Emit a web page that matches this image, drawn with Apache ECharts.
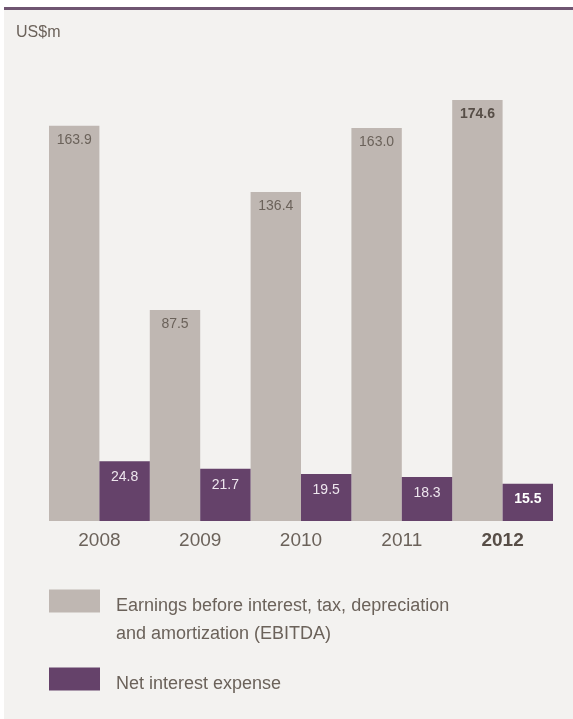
<!DOCTYPE html>
<html>
<head>
<meta charset="utf-8">
<script src="https://cdn.jsdelivr.net/npm/echarts@6/dist/echarts.min.js"></script>
<style>
    html, body { margin: 0; padding: 0; background: #ffffff; }
    #panel {
        position: absolute; left: 4px; top: 7px; right: 0; bottom: 0;
        background: #f3f2f0; border-top: 3px solid #6f5571;
    }
    #chart { position: absolute; left: 0; top: 0; width: 573px; height: 719px; }
</style>
</head>
<body>
<div id="panel"></div>
<div id="chart"></div>
<script>
const years = ["2008", "2009", "2010", "2011", "2012"];
const ebitda = [163.9, 87.5, 136.4, 163.0, 174.6];
const netInterest = [24.8, 21.7, 19.5, 18.3, 15.5];
const seriesNames = [
    "Earnings before interest, tax, depreciation and amortization (EBITDA)",
    "Net interest expense"
];
const legendLines = [
    ["Earnings before interest, tax, depreciation", "and amortization (EBITDA)"],
    ["Net interest expense"]
];
const highlightYear = "2012";

const font = "Liberation Sans";
const textColor = "#6b625a";
const darkText = "#574e47";

const withHighlight = (values, boldColor) =>
    values.map((v, i) => years[i] === highlightYear
        ? { value: v, label: { fontWeight: "bold", color: boldColor } }
        : v);

// legend text sits lower than its swatch, so push it down with a spacer line
const legendText = (lines) => "{s| }\n" + lines.map((l) => "{t|" + l + "}").join("\n");

const legendBase = (name, top, spacer) => ({
    data: [name],
    left: 49,
    top: top,
    padding: 0,
    icon: "rect",
    itemWidth: 51,
    itemHeight: 23,
    selectedMode: false,
    textStyle: {
        padding: [0, 0, 0, 11],
        rich: {
            s: { fontSize: 4, lineHeight: spacer },
            t: { fontFamily: font, fontSize: 18, color: textColor, lineHeight: 28 }
        }
    }
});

const chart = echarts.init(document.getElementById("chart"));

chart.setOption({
    backgroundColor: "transparent",
    textStyle: { fontFamily: font },
    title: {
        text: "US$m",
        left: 16,
        top: 25,
        padding: 0,
        textStyle: { fontFamily: font, fontSize: 16, fontWeight: "normal", color: textColor }
    },
    legend: [
        Object.assign(legendBase(seriesNames[0], 571, 38), {
            formatter: () => legendText(legendLines[0])
        }),
        Object.assign(legendBase(seriesNames[1], 663, 10), {
            formatter: () => legendText(legendLines[1])
        })
    ],
    grid: { left: 49, right: 20, top: 87, bottom: 198 },
    xAxis: {
        type: "category",
        data: years,
        axisLine: { show: false },
        axisTick: { show: false },
        axisLabel: {
            margin: 10,
            fontFamily: font,
            fontSize: 19,
            color: textColor,
            formatter: (v) => v === highlightYear ? "{b|" + v + "}" : v,
            rich: { b: { fontFamily: font, fontSize: 19, fontWeight: "bold", color: darkText } }
        }
    },
    yAxis: {
        type: "value",
        min: 0,
        max: 180,
        show: false,
        splitLine: { show: false }
    },
    series: [
        {
            name: seriesNames[0],
            type: "bar",
            data: withHighlight(ebitda, darkText),
            barGap: "0%",
            barCategoryGap: "0%",
            itemStyle: { color: "#bfb7b2" },
            label: {
                show: true,
                position: "insideTop",
                distance: 7,
                fontFamily: font,
                fontSize: 14,
                color: textColor,
                formatter: (p) => p.value.toFixed(1)
            }
        },
        {
            name: seriesNames[1],
            type: "bar",
            data: withHighlight(netInterest, "#ffffff"),
            barGap: "0%",
            barCategoryGap: "0%",
            itemStyle: { color: "#65426a" },
            label: {
                show: true,
                position: "insideTop",
                distance: 9,
                fontFamily: font,
                fontSize: 14,
                color: "#eee6ee",
                formatter: (p) => p.value.toFixed(1)
            }
        }
    ]
});

window.addEventListener("resize", () => chart.resize());
</script>
</body>
</html>
